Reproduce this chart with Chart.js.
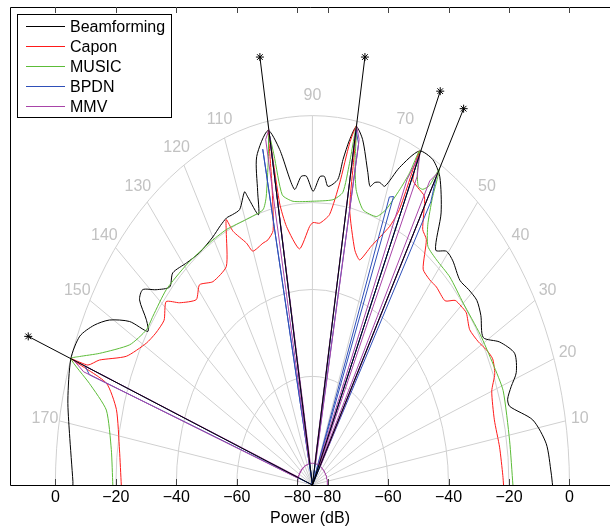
<!DOCTYPE html>
<html><head><meta charset="utf-8">
<script src="https://cdn.jsdelivr.net/npm/chart.js@4/dist/chart.umd.min.js"></script>
<style>html,body{margin:0;padding:0;background:#fff;overflow:hidden}</style>
</head><body>
<canvas id="c" width="610" height="527"></canvas>
<script>
// ---------- DATA (power in dB versus direction in degrees) ----------
const DB_OFFSET = 85;           // polar radius = dB + 85 (so -85 dB sits at the centre)

const bfAngles = [0,2,7,11.6,15.5,17,19,21,24.4,28,31,35,38,41,44,48,50.5,53,55.8,59.3,62,65.3,68.5,70.8,72.3,73.5,74.5,75.7,78.2,80,81.2,82.3,83.2,85.7,86.8,88,89.8,91.6,93,95,98,100.2,103.7,105,106,107.9,108.4,110.8,113,114.8,117,120,124.9,129.1,133.4,136,139,141.3,143.3,145.3,147,148.1,150.5,153,156,160,166.4,171.6,179.4,180];
const bfDb     = [-5.6,-6,-7.1,-10.6,-17.3,-17.5,-15.5,-12.8,-11.6,-14.9,-19.1,-17,-16,-16.5,-17.2,-15.6,-15.3,-17.3,-9.3,-2.5,-0.2,-0.4,-6.5,-12.2,-11.9,-12.4,-13.7,-10.8,-3.8,-1.3,-4.6,-9.4,-14.2,-16.1,-13.9,-14,-17.4,-13.9,-13.9,-16.7,-7,-2.1,-7.2,-15,-20.3,-15.3,-13.9,-17.2,-17.4,-17.3,-18,-19.1,-19.8,-19.1,-17.8,-19.4,-16.5,-13.1,-13.7,-18.2,-20.1,-13.8,-7.9,-4,-0.8,0,-1.8,-3.8,-5.8,-5.8];

const capAngles = [0,2,8,14,20,23,26,28.4,31,34.5,37.9,40,42,44,48,50.6,53.6,56.3,58.2,60.8,63,64.7,65.3,65.6,66.8,70.5,73.2,75.5,79,79.6,80,81.1,82.6,84.8,87.7,89.8,90.9,94.5,98.2,99.5,100.1,101,102.5,104.6,106.4,110.1,111.4,114.2,115,116,119.5,125.1,129,132,136.3,138.9,142.3,146,149.3,154.3,157.8,159.6,160,161,165,172.8,180];
const capDb     = [-21.8,-22,-22.5,-23,-21.9,-19.5,-18.7,-19.6,-21,-21.9,-20.5,-20.9,-21.5,-24,-23.7,-23.9,-23.3,-17.1,-15.8,-9,-8.2,-7.3,-0.4,-15.4,-20.3,-26.7,-30.9,-29.1,-20.4,-10.5,-1,-5.3,-14.9,-22.5,-24.7,-24.6,-25.5,-30.5,-24.9,-19.2,-2,-15,-25,-26.7,-27,-27.7,-25.2,-21,-17.6,-20,-27.2,-27.8,-25.7,-27.6,-24.3,-20.8,-23,-22.5,-21.1,-16.7,-8.9,-5.8,0,-12.9,-17.9,-20.7,-21.8];

const musAngles = [0,9,19,25,32,40,46.5,51.6,55.2,57.5,59,60,60.7,61.8,63,64.3,65.3,65.9,67,69,71.1,75.2,78,79.3,80,80.6,81.5,84.1,90,95.6,98.5,99.5,100.1,101,103,104.5,109.7,115.8,121.4,129.4,137.1,143.6,147,151.9,156.7,159,160,162.4,165.8,173,180];
const musDb     = [-18.7,-19,-18.3,-19.1,-19.6,-19.9,-19,-18.9,-18.1,-14,-8,-1,-6,-7.8,-7.9,-5,-0.4,-6.3,-11.2,-17.1,-19.7,-19.5,-15.5,-9,-1,-10,-16.9,-19,-19.7,-19.4,-17.5,-8,-3,-8.6,-17,-19.6,-20.1,-19.7,-19.7,-19.4,-19,-19.5,-19.5,-16.5,-8.4,-2.5,0,-7.6,-14.7,-18,-19];

// sparse spectra: floor level plus the grid directions that carry power
const GRID_STEP = 1;
const bpdnFloorDb = -85;
const bpdnSpikeAngles = [59,60,65,68,69,79,80,100,102,160,161];
const bpdnSpikeDb     = [-9,-3,-2,-13.4,-14,-5,-2,-3,-6,-5,-7];
const mmvFloorDb = -80;
const mmvSpikeAngles = [60,61,64,65,66,79,80,100,101,160,161];
const mmvSpikeDb     = [-2,-5,-6,-1,-8,-4,-1,-2,-4,-1,-5];

// true directions of arrival (marked with * at +15 dB)
const doaAngles = [60,65,80,100,160];
const doaDb = 15;

// polar grid
const ringDb = [-80,-60,-40,-20,0];
const spokeAngles = [10,20,30,40,50,60,70,80,90,100,110,120,130,140,150,160,170];
const angleLabels = [10,20,30,40,50,70,90,110,120,130,140,150,170];
const xTickDb = [0,-20,-40,-60,-80,-80,-60,-40,-20,0];   // left to right

// ---------- helpers ----------
const FONT = '"Liberation Sans", Arial, Helvetica, sans-serif';
const rad = a => a * Math.PI / 180;
function polarPoints(angles, dbs) {
  return angles.map((a, i) => {
    const r = Math.max(0, dbs[i] + DB_OFFSET);
    return { x: r * Math.cos(rad(a)), y: r * Math.sin(rad(a)) };
  });
}
function sparseSpectrum(floorDb, spikeAngles, spikeDb) {
  const angles = [], dbs = [];
  for (let a = 0; a <= 180; a += GRID_STEP) {
    angles.push(a);
    const k = spikeAngles.indexOf(a);
    dbs.push(k >= 0 ? spikeDb[k] : floorDb);
  }
  return polarPoints(angles, dbs);
}
function doaPoints() {
  const pts = [];
  doaAngles.forEach(a => {
    pts.push({ x: 0, y: 0, tip: false });
    const p = polarPoints([a], [doaDb])[0];
    pts.push({ x: p.x, y: p.y, tip: true });
    pts.push({ x: NaN, y: NaN, tip: false });
  });
  return pts;
}
// x tick positions (radius of each labelled ring, mirrored)
const xTickPos = xTickDb.map((d, i) => (i < xTickDb.length / 2 ? -1 : 1) * (d + DB_OFFSET));
const fmtDb = v => { const d = Math.round(Math.abs(v) - DB_OFFSET); return d < 0 ? '\u2212' + Math.abs(d) : String(d); };

// ---------- plugins ----------
const polarGrid = {
  id: 'polarGrid',
  beforeDatasetsDraw(chart) {
    const { ctx, scales: { x, y } } = chart;
    const cx = x.getPixelForValue(0), cy = y.getPixelForValue(0);
    const outer = ringDb[ringDb.length - 1] + DB_OFFSET;
    ctx.save();
    ctx.strokeStyle = '#d0d0d0'; ctx.lineWidth = 1;
    spokeAngles.forEach(a => {
      ctx.beginPath(); ctx.moveTo(cx, cy);
      ctx.lineTo(x.getPixelForValue(outer * Math.cos(rad(a))), y.getPixelForValue(outer * Math.sin(rad(a))));
      ctx.stroke();
    });
    ringDb.forEach(db => {
      const r = db + DB_OFFSET;
      const rx = x.getPixelForValue(r) - cx, ry = cy - y.getPixelForValue(r);
      ctx.beginPath(); ctx.ellipse(cx, cy, rx, ry, 0, Math.PI, 2 * Math.PI); ctx.stroke();
    });
    ctx.fillStyle = '#c2c2c2'; ctx.font = '16px ' + FONT;
    ctx.textAlign = 'center'; ctx.textBaseline = 'middle';
    const lr = outer + 4.8;
    angleLabels.forEach(a => {
      ctx.fillText(String(a), x.getPixelForValue(lr * Math.cos(rad(a))), y.getPixelForValue(lr * Math.sin(rad(a))) + 1);
    });
    ctx.restore();
  },
  afterDatasetsDraw(chart) {
    const { ctx, chartArea: ca, scales: { x } } = chart;
    ctx.save();
    ctx.strokeStyle = '#000'; ctx.lineWidth = 1;
    ctx.beginPath();
    ctx.moveTo(Math.round(ca.left) + 0.5, Math.round(ca.bottom) + 0.5);
    ctx.lineTo(Math.round(ca.left) + 0.5, Math.round(ca.top) + 0.5);
    ctx.lineTo(ca.right + 2, Math.round(ca.top) + 0.5);
    ctx.moveTo(Math.round(ca.left) + 0.5, Math.round(ca.bottom) + 0.5);
    ctx.lineTo(ca.right + 2, Math.round(ca.bottom) + 0.5);
    ctx.stroke();
    ctx.strokeStyle = '#444';
    xTickPos.forEach(v => {
      const px = Math.round(x.getPixelForValue(v)) + 0.5;
      ctx.beginPath();
      ctx.moveTo(px, ca.bottom); ctx.lineTo(px, ca.bottom - 6);
      ctx.moveTo(px, ca.top); ctx.lineTo(px, ca.top + 6);
      ctx.stroke();
    });
    // legend
    const items = chart.data.datasets.filter(d => d.inLegend);
    ctx.fillStyle = '#fff'; ctx.fillRect(17.5, 14.5, 154, 103);
    ctx.strokeStyle = '#000'; ctx.strokeRect(17.5, 14.5, 154, 103);
    ctx.font = '16px ' + FONT; ctx.textAlign = 'left'; ctx.textBaseline = 'middle';
    items.forEach((d, i) => {
      const yy = 26.5 + i * 20;
      ctx.strokeStyle = d.borderColor;
      ctx.beginPath(); ctx.moveTo(26, yy); ctx.lineTo(65, yy); ctx.stroke();
      ctx.fillStyle = '#000'; ctx.fillText(d.label, 70, yy + 1);
    });
    ctx.restore();
  }
};

const lineDs = (label, pts, color, order, extra) => Object.assign({
  label, data: pts, showLine: true, borderColor: color, backgroundColor: color,
  borderWidth: 1, pointRadius: 0, fill: false, order, inLegend: true, tension: 0
}, extra || {});

new Chart(document.getElementById('c'), {
  type: 'scatter',
  data: {
    datasets: [
      lineDs('Beamforming', polarPoints(bfAngles, bfDb), '#000000', 6, { tension: 0.25 }),
      lineDs('Capon', polarPoints(capAngles, capDb), '#ff1a1a', 5, { tension: 0.2 }),
      lineDs('MUSIC', polarPoints(musAngles, musDb), '#5cbc38', 4, { tension: 0.2 }),
      lineDs('BPDN', sparseSpectrum(bpdnFloorDb, bpdnSpikeAngles, bpdnSpikeDb), '#2f4fb8', 3),
      lineDs('MMV', sparseSpectrum(mmvFloorDb, mmvSpikeAngles, mmvSpikeDb), '#a844a8', 2),
      {
        label: 'DOA', data: doaPoints(), showLine: true, spanGaps: false, inLegend: false, order: 1,
        borderColor: '#000', backgroundColor: '#000', borderWidth: 1,
        pointStyle: 'star', pointBorderColor: '#000', pointBorderWidth: 1,
        pointRadius: c => (c.raw && c.raw.tip ? 4 : 0)
      }
    ]
  },
  options: {
    responsive: false, animation: false, devicePixelRatio: 1,
    layout: { padding: { left: 10, top: 7, right: 0, bottom: 0.4 } },
    plugins: { legend: { display: false }, tooltip: { enabled: false } },
    scales: {
      x: {
        type: 'linear', min: -100, max: 98.4,
        grid: { display: false, drawTicks: false }, border: { display: false },
        afterBuildTicks: s => { s.ticks = xTickPos.map(v => ({ value: v })); },
        ticks: { color: '#000', font: { family: FONT, size: 16, lineHeight: 1.1 }, padding: 4,
                 maxRotation: 0, autoSkip: false, callback: v => fmtDb(v) },
        title: { display: true, text: 'Power (dB)', color: '#000',
                 font: { family: FONT, size: 16, lineHeight: 1.0 }, padding: 0 }
      },
      y: { type: 'linear', min: 0, max: 110, display: false }
    }
  },
  plugins: [polarGrid]
});
</script>
</body></html>
